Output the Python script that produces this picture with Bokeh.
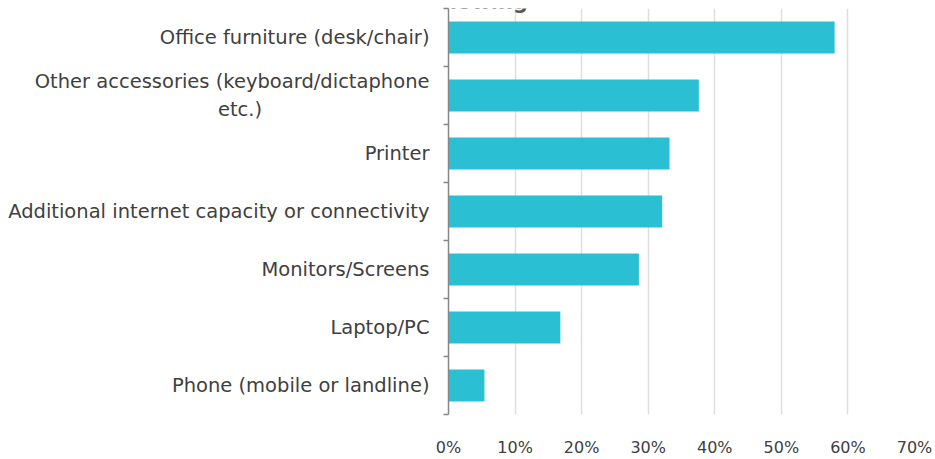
from bokeh.plotting import figure
from bokeh.models import FixedTicker, NumeralTickFormatter, Range1d, Label, ColumnDataSource
from bokeh.embed import file_html
from bokeh.resources import INLINE

# Data (top to bottom as displayed)
categories = [
    "Office furniture (desk/chair)",
    "Other accessories (keyboard/dictaphone\netc.)" + "\u00a0" * 27,
    "Printer",
    "Additional internet capacity or connectivity",
    "Monitors/Screens",
    "Laptop/PC",
    "Phone (mobile or landline)",
]
shares = [0.58, 0.376, 0.332, 0.321, 0.286, 0.168, 0.054]
x_ticks = [0.0, 0.1, 0.2, 0.3, 0.4, 0.5, 0.6, 0.7]
title_fragment = "following"

n = len(categories)
pos = [n - 1 - i for i in range(n)]  # top category at highest position
src = ColumnDataSource(dict(y=pos, right=shares))

p = figure(
    width=935, height=459,
    x_range=Range1d(0, 0.7), y_range=Range1d(-0.5, n - 0.5),
    output_backend="svg", toolbar_location=None,
    min_border_left=448, min_border_right=21, min_border_top=8, min_border_bottom=37,
)
p.outline_line_color = None
p.background_fill_color = "white"
p.border_fill_color = "white"

p.hbar(y="y", right="right", left=0, height=0.55, source=src,
       fill_color="#2BBFD4", line_color=None)

# X axis
p.xaxis.ticker = FixedTicker(ticks=x_ticks)
p.xaxis.formatter = NumeralTickFormatter(format="0%")
p.xaxis.axis_line_color = None
p.xaxis.major_tick_line_color = None
p.xaxis.minor_tick_line_color = None
p.xaxis.major_label_text_font = "DejaVu Sans"
p.xaxis.major_label_text_font_size = "16px"
p.xaxis.major_label_text_color = "#404040"
p.xaxis.major_label_standoff = 17

# Y axis
p.yaxis.ticker = FixedTicker(ticks=pos, minor_ticks=[k - 0.5 for k in range(n + 1)])
p.yaxis.major_label_overrides = {pos[i]: categories[i] for i in range(n)}
p.yaxis.axis_line_color = "#868686"
p.yaxis.axis_line_width = 1.5
p.yaxis.major_tick_line_color = None
p.yaxis.minor_tick_line_color = "#868686"
p.yaxis.minor_tick_line_width = 1.5
p.yaxis.minor_tick_out = 5
p.yaxis.minor_tick_in = 0
p.yaxis.major_label_text_font = "DejaVu Sans"
p.yaxis.major_label_text_font_size = "19.5px"
p.yaxis.major_label_text_color = "#404040"
p.yaxis.major_label_standoff = 13

# Grid
p.xgrid.ticker = FixedTicker(ticks=x_ticks)
p.xgrid.grid_line_color = "#DEDEDE"
p.xgrid.grid_line_width = 1.5
p.ygrid.grid_line_color = None

# Partially visible title (its upper part lies above the picture)
p.add_layout(Label(x=25, y=412.4, x_units="screen", y_units="screen",
                   text=title_fragment, text_align="center", text_baseline="alphabetic",
                   text_font="DejaVu Sans", text_font_style="bold", level="overlay",
                   text_font_size="21px", text_color="#595959"))

open("out.html", "w").write(file_html(p, INLINE))
